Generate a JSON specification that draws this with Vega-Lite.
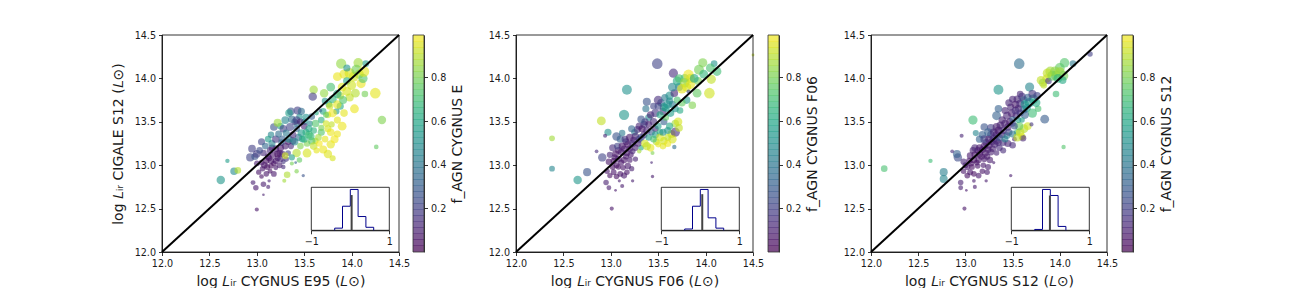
{
"$schema":"https://vega.github.io/schema/vega-lite/v6.json",
"width":1296,"height":288,"padding":0,"autosize":{"type":"none"},"background":"white",
"config":{"view":{"stroke":null},"font":"DejaVu Sans","axis":{"grid":false,"domainColor":"#000","tickColor":"#000","domainWidth":0.8,"tickWidth":0.8,"tickSize":3.5,"labelColor":"#1a1a1a","titleColor":"#1a1a1a","labelFontSize":9.6,"labelFont":"DejaVu Sans","titleFont":"DejaVu Sans","titleFontWeight":"normal","titleFontSize":14,"labelPadding":3,"labelFlush":false,"labelOverlap":false}},
"datasets":{
"line":[{"a":12,"b":12},{"a":14.5,"b":14.5}],
"frame":[{"a":12,"a2":14.5,"b":12,"b2":14.5}],
"iframe":[{"a":-1,"a2":1,"b":0,"b2":1}],
"bar":[{"a":0.0,"b":0.03},{"a":0.0275,"b":0.058},{"a":0.055,"b":0.085},{"a":0.0825,"b":0.113},{"a":0.11,"b":0.14},{"a":0.1375,"b":0.168},{"a":0.165,"b":0.195},{"a":0.1925,"b":0.223},{"a":0.22,"b":0.25},{"a":0.2475,"b":0.278},{"a":0.275,"b":0.305},{"a":0.3025,"b":0.333},{"a":0.33,"b":0.36},{"a":0.3575,"b":0.388},{"a":0.385,"b":0.415},{"a":0.4125,"b":0.443},{"a":0.44,"b":0.47},{"a":0.4675,"b":0.498},{"a":0.495,"b":0.525},{"a":0.5225,"b":0.553},{"a":0.55,"b":0.58},{"a":0.5775,"b":0.608},{"a":0.605,"b":0.635},{"a":0.6325,"b":0.663},{"a":0.66,"b":0.69},{"a":0.6875,"b":0.718},{"a":0.715,"b":0.745},{"a":0.7425,"b":0.773},{"a":0.77,"b":0.8},{"a":0.7975,"b":0.828},{"a":0.825,"b":0.855},{"a":0.8525,"b":0.883},{"a":0.88,"b":0.91},{"a":0.9075,"b":0.938},{"a":0.935,"b":0.965},{"a":0.9625,"b":0.994}],
"h1":[{"a":-0.4,"b":0},{"a":-0.4,"b":0.05},{"a":-0.2,"b":0.56},{"a":0,"b":0.95},{"a":0.2,"b":0.32},{"a":0.4,"b":0.07},{"a":0.6,"b":0}],
"h2":[{"a":-0.4,"b":0},{"a":-0.4,"b":0.03},{"a":-0.2,"b":0.56},{"a":0,"b":0.95},{"a":0.2,"b":0.29},{"a":0.4,"b":0.05},{"a":0.6,"b":0}],
"h3":[{"a":-0.4,"b":0},{"a":-0.4,"b":0.02},{"a":-0.2,"b":0.95},{"a":0,"b":0.81},{"a":0.2,"b":0.09},{"a":0.4,"b":0}],
"g1":[{"a":0.034,"b":0.82}],"g2":[{"a":0.05,"b":0.84}],"g3":[{"a":-0.01,"b":0.81}],
"p1":[
{"x":13.08,"y":13.0,"f":0.05,"s":0.3},{"x":13.13,"y":13.08,"f":0.04,"s":0.25},{"x":13.18,"y":13.02,"f":0.04,"s":0.2},{"x":13.22,"y":13.08,"f":0.05,"s":0.25},{"x":13.28,"y":13.04,"f":0.15,"s":0.15},{"x":13.16,"y":13.2,"f":0.12,"s":0.3},{"x":13.26,"y":13.26,"f":0.35,"s":0.3},{"x":13.33,"y":13.27,"f":0.05,"s":0.3},{"x":13.38,"y":13.28,"f":0.15,"s":0.35},{"x":13.24,"y":13.14,"f":0.06,"s":0.3},{"x":13.44,"y":13.32,"f":0.35,"s":0.35},{"x":13.47,"y":13.37,"f":0.55,"s":0.4},{"x":13.52,"y":13.38,"f":0.62,"s":0.35},{"x":13.48,"y":13.3,"f":0.6,"s":0.3},{"x":13.53,"y":13.25,"f":0.8,"s":0.3},{"x":13.57,"y":13.33,"f":0.66,"s":0.4},{"x":13.62,"y":13.28,"f":0.88,"s":0.25},{"x":13.68,"y":13.38,"f":0.72,"s":0.35},{"x":13.72,"y":13.3,"f":0.95,"s":0.3},{"x":13.75,"y":13.42,"f":0.93,"s":0.35},{"x":13.85,"y":13.36,"f":0.96,"s":0.35},{"x":13.42,"y":13.48,"f":0.4,"s":0.3},{"x":13.45,"y":13.56,"f":0.5,"s":0.28},{"x":13.5,"y":13.5,"f":0.52,"s":0.3},{"x":13.56,"y":13.48,"f":0.45,"s":0.25},{"x":13.68,"y":13.52,"f":0.62,"s":0.3},{"x":13.7,"y":13.62,"f":0.58,"s":0.3},{"x":13.76,"y":13.7,"f":0.62,"s":0.3},{"x":13.84,"y":13.62,"f":0.55,"s":0.25},{"x":13.88,"y":13.8,"f":0.9,"s":0.4},{"x":13.95,"y":13.85,"f":0.93,"s":0.55},{"x":13.98,"y":13.78,"f":0.9,"s":0.45},{"x":14.02,"y":14.02,"f":0.92,"s":0.7},{"x":14.08,"y":14.05,"f":0.88,"s":0.6},{"x":14.1,"y":13.94,"f":0.96,"s":0.6},{"x":13.92,"y":14.05,"f":0.95,"s":0.6},{"x":13.75,"y":13.58,"f":0.9,"s":0.3},{"x":13.88,"y":13.68,"f":0.6,"s":0.35},{"x":13.0,"y":13.02,"f":0.07,"s":0.22},{"x":13.07,"y":13.14,"f":0.12,"s":0.3},{"x":13.15,"y":13.35,"f":0.45,"s":0.28},{"x":13.25,"y":13.45,"f":0.6,"s":0.3},{"x":13.4,"y":13.5,"f":0.15,"s":0.3},{"x":13.36,"y":13.62,"f":0.25,"s":0.4},
{"x":12.62,"y":12.83,"f":0.52,"s":0.5},{"x":12.76,"y":12.93,"f":0.47,"s":0.4},{"x":12.8,"y":12.94,"f":0.88,"s":0.3},{"x":12.69,"y":13.05,"f":0.55,"s":0.12},{"x":13.0,"y":12.49,"f":0.05,"s":0.1},
{"x":12.96,"y":12.8,"f":0.08,"s":0.15},{"x":12.99,"y":12.74,"f":0.06,"s":0.2},{"x":13.07,"y":12.78,"f":0.07,"s":0.2},{"x":13.12,"y":12.75,"f":0.08,"s":0.1},{"x":13.13,"y":12.82,"f":0.09,"s":0.06},{"x":13.07,"y":12.66,"f":0.08,"s":0.03},
{"x":13.02,"y":12.92,"f":0.05,"s":0.18},{"x":13.05,"y":12.87,"f":0.04,"s":0.14},{"x":13.1,"y":12.9,"f":0.05,"s":0.2},{"x":13.14,"y":12.93,"f":0.04,"s":0.16},{"x":13.18,"y":12.9,"f":0.06,"s":0.22},{"x":13.06,"y":12.96,"f":0.05,"s":0.2},{"x":13.11,"y":12.98,"f":0.04,"s":0.25},{"x":13.15,"y":12.99,"f":0.03,"s":0.2},{"x":13.2,"y":12.97,"f":0.06,"s":0.16},{"x":13.24,"y":13.0,"f":0.07,"s":0.24},{"x":13.28,"y":12.98,"f":0.12,"s":0.12},{"x":13.05,"y":13.03,"f":0.05,"s":0.22},{"x":13.1,"y":13.05,"f":0.04,"s":0.26},{"x":13.15,"y":13.05,"f":0.05,"s":0.3},{"x":13.2,"y":13.05,"f":0.06,"s":0.26},{"x":13.25,"y":13.07,"f":0.1,"s":0.28},{"x":13.31,"y":13.07,"f":0.15,"s":0.2},{"x":13.12,"y":13.1,"f":0.06,"s":0.28},{"x":13.17,"y":13.12,"f":0.05,"s":0.3},{"x":13.22,"y":13.13,"f":0.04,"s":0.32},{"x":13.27,"y":13.13,"f":0.08,"s":0.28},{"x":13.33,"y":13.14,"f":0.2,"s":0.22},{"x":13.14,"y":13.17,"f":0.1,"s":0.3},{"x":13.2,"y":13.19,"f":0.07,"s":0.32},{"x":13.25,"y":13.2,"f":0.05,"s":0.36},{"x":13.3,"y":13.22,"f":0.08,"s":0.32},{"x":13.36,"y":13.22,"f":0.12,"s":0.26},
{"x":12.93,"y":13.09,"f":0.2,"s":0.45},{"x":12.95,"y":13.19,"f":0.18,"s":0.42},{"x":12.98,"y":13.1,"f":0.25,"s":0.35},{"x":13.0,"y":13.13,"f":0.17,"s":0.4},{"x":13.03,"y":13.17,"f":0.22,"s":0.3},{"x":13.05,"y":13.27,"f":0.2,"s":0.35},{"x":13.09,"y":13.22,"f":0.33,"s":0.3},{"x":13.12,"y":13.3,"f":0.55,"s":0.3},{"x":13.16,"y":13.25,"f":0.45,"s":0.35},{"x":13.18,"y":13.44,"f":0.25,"s":0.4},{"x":13.2,"y":13.3,"f":0.15,"s":0.38},{"x":13.23,"y":13.36,"f":0.35,"s":0.32},{"x":13.27,"y":13.3,"f":0.3,"s":0.38},{"x":13.28,"y":13.42,"f":0.18,"s":0.4},{"x":13.31,"y":13.37,"f":0.4,"s":0.35},{"x":13.34,"y":13.3,"f":0.5,"s":0.35},{"x":13.35,"y":13.44,"f":0.2,"s":0.42},{"x":13.38,"y":13.35,"f":0.12,"s":0.35},{"x":13.4,"y":13.27,"f":0.45,"s":0.38},{"x":13.42,"y":13.42,"f":0.3,"s":0.3},{"x":13.3,"y":13.52,"f":0.45,"s":0.42},{"x":13.34,"y":13.6,"f":0.55,"s":0.4},{"x":13.37,"y":13.53,"f":0.35,"s":0.4},{"x":13.42,"y":13.52,"f":0.2,"s":0.38},{"x":13.43,"y":13.63,"f":0.18,"s":0.42},{"x":13.46,"y":13.5,"f":0.08,"s":0.3},{"x":13.5,"y":13.45,"f":0.1,"s":0.3},{"x":13.22,"y":13.49,"f":0.85,"s":0.45},{"x":13.47,"y":13.62,"f":0.35,"s":0.35},
{"x":13.32,"y":12.89,"f":0.87,"s":0.3},{"x":13.29,"y":12.82,"f":0.85,"s":0.1},{"x":13.42,"y":12.93,"f":0.8,"s":0.12},{"x":13.49,"y":12.88,"f":0.25,"s":0.06},{"x":13.8,"y":13.08,"f":0.93,"s":0.25},{"x":14.26,"y":13.21,"f":0.75,"s":0.14},{"x":14.32,"y":13.52,"f":0.8,"s":0.5},{"x":13.53,"y":13.14,"f":0.93,"s":0.55},{"x":13.42,"y":13.14,"f":0.88,"s":0.5},{"x":13.37,"y":13.09,"f":0.55,"s":0.25},{"x":13.3,"y":13.11,"f":0.92,"s":0.3},{"x":13.45,"y":13.06,"f":0.75,"s":0.2},{"x":13.37,"y":13.02,"f":0.78,"s":0.1},{"x":13.41,"y":13.03,"f":0.3,"s":0.04},
{"x":13.46,"y":13.22,"f":0.8,"s":0.3},{"x":13.5,"y":13.3,"f":0.62,"s":0.35},{"x":13.55,"y":13.35,"f":0.68,"s":0.4},{"x":13.58,"y":13.28,"f":0.72,"s":0.38},{"x":13.6,"y":13.22,"f":0.9,"s":0.4},{"x":13.63,"y":13.17,"f":0.95,"s":0.25},{"x":13.66,"y":13.25,"f":0.98,"s":0.3},{"x":13.7,"y":13.18,"f":0.96,"s":0.45},{"x":13.75,"y":13.13,"f":0.94,"s":0.5},{"x":13.78,"y":13.24,"f":0.95,"s":0.5},{"x":13.82,"y":13.3,"f":0.97,"s":0.45},{"x":13.65,"y":13.32,"f":0.85,"s":0.3},{"x":13.55,"y":13.42,"f":0.6,"s":0.35},{"x":13.6,"y":13.4,"f":0.64,"s":0.3},{"x":13.62,"y":13.48,"f":0.72,"s":0.4},{"x":13.68,"y":13.43,"f":0.78,"s":0.25},{"x":13.73,"y":13.48,"f":0.92,"s":0.3},{"x":13.78,"y":13.38,"f":0.96,"s":0.4},{"x":13.52,"y":13.55,"f":0.5,"s":0.38},{"x":13.58,"y":13.56,"f":0.3,"s":0.3},{"x":13.63,"y":13.6,"f":0.6,"s":0.15},
{"x":13.6,"y":13.87,"f":0.85,"s":0.5},{"x":13.59,"y":13.79,"f":0.17,"s":0.5},{"x":13.71,"y":13.83,"f":0.83,"s":0.5},{"x":13.78,"y":13.9,"f":0.7,"s":0.55},{"x":13.85,"y":14.02,"f":0.96,"s":0.55},{"x":13.89,"y":14.17,"f":0.83,"s":0.75},{"x":14.07,"y":14.18,"f":0.85,"s":0.65},{"x":14.15,"y":14.17,"f":0.55,"s":0.3},{"x":14.25,"y":13.83,"f":0.95,"s":0.8},{"x":14.14,"y":13.82,"f":0.78,"s":0.3},{"x":14.04,"y":13.83,"f":0.88,"s":0.55},{"x":14.03,"y":13.65,"f":0.96,"s":0.55},{"x":14.12,"y":14.0,"f":0.72,"s":0.6},{"x":13.98,"y":14.06,"f":0.93,"s":0.75},{"x":14.05,"y":14.1,"f":0.78,"s":0.7},{"x":14.13,"y":14.08,"f":0.95,"s":0.8},{"x":13.95,"y":13.97,"f":0.6,"s":0.4},{"x":14.0,"y":13.92,"f":0.92,"s":0.6},{"x":13.9,"y":13.9,"f":0.94,"s":0.55},{"x":13.85,"y":13.82,"f":0.6,"s":0.5},{"x":13.8,"y":13.76,"f":0.65,"s":0.45},{"x":13.72,"y":13.74,"f":0.5,"s":0.3},{"x":13.77,"y":13.68,"f":0.92,"s":0.35},{"x":13.85,"y":13.7,"f":0.95,"s":0.5},{"x":13.91,"y":13.75,"f":0.72,"s":0.45},{"x":13.8,"y":13.6,"f":0.97,"s":0.5},{"x":13.67,"y":13.63,"f":0.3,"s":0.08},{"x":13.73,"y":13.58,"f":0.75,"s":0.25},{"x":13.9,"y":13.45,"f":0.96,"s":0.55},{"x":13.85,"y":13.52,"f":0.95,"s":0.35},{"x":13.79,"y":13.47,"f":0.9,"s":0.25},{"x":13.95,"y":14.12,"f":0.5,"s":0.35},{"x":13.92,"y":13.6,"f":0.95,"s":0.4}
],
"p2":[
{"x":13.06,"y":13.0,"f":0.05,"s":0.24},{"x":13.11,"y":13.03,"f":0.05,"s":0.25},{"x":13.16,"y":13.1,"f":0.06,"s":0.25},{"x":13.21,"y":13.12,"f":0.06,"s":0.25},{"x":13.04,"y":13.09,"f":0.07,"s":0.25},{"x":13.08,"y":13.17,"f":0.06,"s":0.3},{"x":13.14,"y":13.19,"f":0.07,"s":0.3},{"x":13.2,"y":13.19,"f":0.06,"s":0.3},{"x":13.26,"y":13.2,"f":0.08,"s":0.28},{"x":13.32,"y":13.2,"f":0.6,"s":0.2},{"x":13.16,"y":13.27,"f":0.12,"s":0.32},{"x":13.24,"y":13.29,"f":0.07,"s":0.3},{"x":13.3,"y":13.3,"f":0.3,"s":0.35},{"x":13.35,"y":13.35,"f":0.08,"s":0.35},{"x":13.4,"y":13.32,"f":0.55,"s":0.3},{"x":13.47,"y":13.42,"f":0.1,"s":0.3},{"x":13.52,"y":13.38,"f":0.62,"s":0.3},{"x":13.3,"y":13.45,"f":0.1,"s":0.35},{"x":13.35,"y":13.47,"f":0.2,"s":0.35},{"x":13.4,"y":13.55,"f":0.45,"s":0.35},{"x":13.55,"y":13.62,"f":0.12,"s":0.38},{"x":13.58,"y":13.66,"f":0.55,"s":0.4},{"x":13.65,"y":13.7,"f":0.4,"s":0.35},{"x":13.7,"y":13.75,"f":0.7,"s":0.35},{"x":13.53,"y":13.72,"f":0.3,"s":0.4},{"x":13.45,"y":13.68,"f":0.2,"s":0.3},{"x":13.62,"y":13.74,"f":0.45,"s":0.35},{"x":13.72,"y":13.9,"f":0.4,"s":0.45},{"x":13.78,"y":14.0,"f":0.7,"s":0.55},{"x":13.84,"y":14.0,"f":0.9,"s":0.6},{"x":13.8,"y":13.9,"f":0.92,"s":0.6},{"x":13.92,"y":13.97,"f":0.78,"s":0.45},{"x":13.68,"y":13.48,"f":0.85,"s":0.4},{"x":13.64,"y":13.36,"f":0.92,"s":0.45},{"x":13.55,"y":13.22,"f":0.95,"s":0.3},{"x":13.48,"y":13.27,"f":0.88,"s":0.35},{"x":13.44,"y":13.14,"f":0.8,"s":0.1},{"x":13.62,"y":13.45,"f":0.6,"s":0.35},{"x":13.25,"y":13.38,"f":0.4,"s":0.3},{"x":13.12,"y":13.37,"f":0.4,"s":0.28},
{"x":12.38,"y":12.96,"f":0.45,"s":0.22},{"x":12.38,"y":13.31,"f":0.85,"s":0.22},{"x":12.65,"y":12.83,"f":0.52,"s":0.5},{"x":12.75,"y":12.92,"f":0.25,"s":0.45},{"x":13.01,"y":12.5,"f":0.05,"s":0.1},{"x":12.91,"y":13.09,"f":0.2,"s":0.5},{"x":12.97,"y":13.38,"f":0.5,"s":0.35},{"x":13.06,"y":13.33,"f":0.25,"s":0.5},{"x":12.94,"y":13.34,"f":0.1,"s":0.1},{"x":12.85,"y":13.16,"f":0.12,"s":0.08},{"x":13.44,"y":12.87,"f":0.07,"s":0.06},{"x":13.43,"y":13.03,"f":0.1,"s":0.03},{"x":13.67,"y":13.21,"f":0.35,"s":0.12},{"x":13.23,"y":12.82,"f":0.08,"s":0.06},{"x":13.12,"y":12.76,"f":0.07,"s":0.1},{"x":13.05,"y":12.71,"f":0.06,"s":0.03},{"x":12.98,"y":12.74,"f":0.07,"s":0.15},{"x":12.95,"y":12.8,"f":0.08,"s":0.2},{"x":13.09,"y":12.82,"f":0.07,"s":0.05},{"x":12.9,"y":13.51,"f":0.9,"s":0.55},
{"x":13.49,"y":14.17,"f":0.2,"s":0.8},{"x":13.17,"y":13.87,"f":0.5,"s":0.7},{"x":13.14,"y":13.58,"f":0.52,"s":0.75},{"x":13.66,"y":14.06,"f":0.13,"s":0.6},{"x":13.97,"y":14.18,"f":0.8,"s":0.6},{"x":14.09,"y":14.17,"f":0.5,"s":0.3},{"x":13.93,"y":14.1,"f":0.78,"s":0.7},{"x":14.06,"y":13.99,"f":0.9,"s":0.6},{"x":14.04,"y":13.83,"f":0.92,"s":0.8},{"x":13.91,"y":13.83,"f":0.75,"s":0.55},{"x":13.86,"y":13.69,"f":0.8,"s":0.4},{"x":13.82,"y":14.04,"f":0.97,"s":0.8},{"x":13.38,"y":13.73,"f":0.25,"s":0.45},{"x":13.37,"y":13.65,"f":0.38,"s":0.35},{"x":13.71,"y":13.5,"f":0.93,"s":0.5},{"x":13.68,"y":13.38,"f":0.13,"s":0.6},{"x":13.65,"y":13.3,"f":0.93,"s":0.5},{"x":14.5,"y":14.27,"f":0.9,"s":0.04},{"x":14.12,"y":14.08,"f":0.68,"s":0.55},{"x":14.05,"y":14.12,"f":0.7,"s":0.55},
{"x":12.96,"y":12.93,"f":0.05,"s":0.2},{"x":12.99,"y":12.88,"f":0.04,"s":0.18},{"x":13.03,"y":12.92,"f":0.05,"s":0.22},{"x":13.06,"y":12.87,"f":0.04,"s":0.2},{"x":13.1,"y":12.9,"f":0.05,"s":0.22},{"x":13.14,"y":12.88,"f":0.06,"s":0.25},{"x":13.17,"y":12.92,"f":0.05,"s":0.2},{"x":13.02,"y":12.98,"f":0.04,"s":0.24},{"x":13.08,"y":12.98,"f":0.04,"s":0.2},{"x":13.13,"y":12.97,"f":0.05,"s":0.2},{"x":13.18,"y":12.99,"f":0.06,"s":0.28},{"x":13.22,"y":12.96,"f":0.08,"s":0.18},{"x":12.98,"y":13.04,"f":0.05,"s":0.28},{"x":13.03,"y":13.05,"f":0.04,"s":0.26},{"x":13.08,"y":13.07,"f":0.06,"s":0.3},{"x":13.14,"y":13.06,"f":0.05,"s":0.28},{"x":13.2,"y":13.06,"f":0.07,"s":0.22},{"x":13.26,"y":13.07,"f":0.08,"s":0.18},{"x":12.99,"y":13.12,"f":0.1,"s":0.26},{"x":13.05,"y":13.13,"f":0.05,"s":0.3},{"x":13.11,"y":13.15,"f":0.06,"s":0.3},{"x":13.17,"y":13.14,"f":0.07,"s":0.3},{"x":13.23,"y":13.16,"f":0.1,"s":0.22},{"x":13.3,"y":13.16,"f":0.85,"s":0.12},{"x":13.02,"y":13.2,"f":0.12,"s":0.35},{"x":13.07,"y":13.22,"f":0.2,"s":0.32},{"x":13.12,"y":13.22,"f":0.06,"s":0.35},{"x":13.18,"y":13.24,"f":0.05,"s":0.35},{"x":13.23,"y":13.25,"f":0.12,"s":0.35},{"x":13.29,"y":13.25,"f":0.08,"s":0.3},{"x":13.1,"y":13.3,"f":0.3,"s":0.35},{"x":13.15,"y":13.3,"f":0.15,"s":0.32},{"x":13.2,"y":13.32,"f":0.06,"s":0.38},{"x":13.26,"y":13.33,"f":0.1,"s":0.38},{"x":13.32,"y":13.32,"f":0.2,"s":0.35},{"x":13.36,"y":13.25,"f":0.92,"s":0.4},{"x":13.42,"y":13.2,"f":0.95,"s":0.4},{"x":13.38,"y":13.22,"f":0.9,"s":0.5},{"x":13.28,"y":13.41,"f":0.12,"s":0.35},{"x":13.22,"y":13.42,"f":0.32,"s":0.35},{"x":13.33,"y":13.42,"f":0.05,"s":0.35},{"x":13.38,"y":13.4,"f":0.1,"s":0.35},{"x":13.43,"y":13.38,"f":0.3,"s":0.3},{"x":13.47,"y":13.35,"f":0.55,"s":0.35},{"x":13.52,"y":13.32,"f":0.93,"s":0.45},{"x":13.56,"y":13.28,"f":0.92,"s":0.4},{"x":13.6,"y":13.32,"f":0.9,"s":0.35},{"x":13.5,"y":13.24,"f":0.95,"s":0.25},{"x":13.45,"y":13.3,"f":0.7,"s":0.3},{"x":13.55,"y":13.38,"f":0.5,"s":0.35},{"x":13.6,"y":13.4,"f":0.52,"s":0.35},{"x":13.36,"y":13.5,"f":0.15,"s":0.35},{"x":13.32,"y":13.53,"f":0.25,"s":0.4},{"x":13.4,"y":13.47,"f":0.08,"s":0.3},{"x":13.45,"y":13.5,"f":0.12,"s":0.4},{"x":13.5,"y":13.45,"f":0.55,"s":0.3},{"x":13.56,"y":13.5,"f":0.3,"s":0.35},{"x":13.42,"y":13.58,"f":0.08,"s":0.38},{"x":13.47,"y":13.6,"f":0.15,"s":0.45},{"x":13.52,"y":13.58,"f":0.6,"s":0.35},{"x":13.58,"y":13.55,"f":0.75,"s":0.3},{"x":13.63,"y":13.6,"f":0.55,"s":0.4},{"x":13.56,"y":13.67,"f":0.55,"s":0.45},{"x":13.5,"y":13.68,"f":0.2,"s":0.35},{"x":13.6,"y":13.7,"f":0.5,"s":0.5},{"x":13.68,"y":13.65,"f":0.5,"s":0.35},{"x":13.73,"y":13.63,"f":0.6,"s":0.3},{"x":13.5,"y":13.75,"f":0.13,"s":0.55},{"x":13.57,"y":13.78,"f":0.4,"s":0.35},{"x":13.62,"y":13.8,"f":0.5,"s":0.5},{"x":13.67,"y":13.83,"f":0.1,"s":0.4},{"x":13.65,"y":13.9,"f":0.45,"s":0.55},{"x":13.7,"y":13.97,"f":0.6,"s":0.55},{"x":13.72,"y":14.0,"f":0.7,"s":0.5},{"x":13.78,"y":13.95,"f":0.85,"s":0.65},{"x":13.84,"y":13.93,"f":0.95,"s":0.6},{"x":13.88,"y":14.0,"f":0.6,"s":0.55},{"x":13.75,"y":13.88,"f":0.95,"s":0.65},{"x":13.82,"y":13.85,"f":0.2,"s":0.1},{"x":13.8,"y":13.75,"f":0.55,"s":0.4},{"x":13.75,"y":13.72,"f":0.75,"s":0.4},{"x":13.98,"y":14.05,"f":0.65,"s":0.55},{"x":13.72,"y":13.43,"f":0.9,"s":0.4},{"x":13.6,"y":13.25,"f":0.96,"s":0.35}
],
"p3":[
{"x":13.0,"y":13.0,"f":0.06,"s":0.22},{"x":13.06,"y":13.02,"f":0.05,"s":0.25},{"x":13.12,"y":13.03,"f":0.05,"s":0.22},{"x":13.17,"y":13.1,"f":0.05,"s":0.3},{"x":13.23,"y":13.1,"f":0.06,"s":0.28},{"x":13.08,"y":13.17,"f":0.08,"s":0.3},{"x":13.13,"y":13.17,"f":0.08,"s":0.3},{"x":13.18,"y":13.18,"f":0.05,"s":0.32},{"x":13.24,"y":13.18,"f":0.07,"s":0.32},{"x":13.29,"y":13.19,"f":0.08,"s":0.3},{"x":13.35,"y":13.26,"f":0.1,"s":0.3},{"x":13.4,"y":13.26,"f":0.13,"s":0.3},{"x":13.22,"y":13.26,"f":0.15,"s":0.38},{"x":13.28,"y":13.27,"f":0.08,"s":0.36},{"x":13.33,"y":13.28,"f":0.12,"s":0.38},{"x":13.18,"y":13.35,"f":0.3,"s":0.4},{"x":13.27,"y":13.35,"f":0.2,"s":0.4},{"x":13.33,"y":13.35,"f":0.1,"s":0.4},{"x":13.39,"y":13.35,"f":0.1,"s":0.35},{"x":13.44,"y":13.34,"f":0.4,"s":0.3},{"x":13.27,"y":13.43,"f":0.18,"s":0.42},{"x":13.33,"y":13.44,"f":0.08,"s":0.42},{"x":13.39,"y":13.52,"f":0.08,"s":0.38},{"x":13.45,"y":13.44,"f":0.08,"s":0.38},{"x":13.54,"y":13.57,"f":0.12,"s":0.38},{"x":13.5,"y":13.48,"f":0.2,"s":0.3},{"x":13.56,"y":13.65,"f":0.08,"s":0.38},{"x":13.62,"y":13.64,"f":0.3,"s":0.4},{"x":13.65,"y":13.66,"f":0.5,"s":0.5},{"x":13.42,"y":13.63,"f":0.1,"s":0.35},{"x":13.46,"y":13.72,"f":0.1,"s":0.35},{"x":13.5,"y":13.76,"f":0.1,"s":0.35},{"x":13.55,"y":13.76,"f":0.1,"s":0.38},{"x":13.62,"y":13.75,"f":0.45,"s":0.4},{"x":13.58,"y":13.82,"f":0.1,"s":0.3},{"x":13.86,"y":14.0,"f":0.93,"s":0.5},{"x":13.9,"y":14.08,"f":0.85,"s":0.7},{"x":13.96,"y":14.03,"f":0.8,"s":0.7},{"x":14.0,"y":14.12,"f":0.75,"s":0.7},{"x":13.8,"y":13.98,"f":0.9,"s":0.5},{"x":13.55,"y":13.38,"f":0.7,"s":0.3},{"x":13.6,"y":13.33,"f":0.92,"s":0.35},
{"x":12.14,"y":12.96,"f":0.7,"s":0.3},{"x":12.63,"y":13.05,"f":0.68,"s":0.12},{"x":12.77,"y":12.92,"f":0.42,"s":0.45},{"x":12.77,"y":12.84,"f":0.45,"s":0.45},{"x":12.99,"y":12.5,"f":0.05,"s":0.1},{"x":14.04,"y":13.21,"f":0.72,"s":0.12},{"x":12.92,"y":13.09,"f":0.22,"s":0.5},{"x":12.91,"y":13.13,"f":0.3,"s":0.45},{"x":12.86,"y":13.16,"f":0.12,"s":0.08},{"x":12.96,"y":13.34,"f":0.1,"s":0.1},{"x":13.11,"y":13.37,"f":0.45,"s":0.25},{"x":13.61,"y":13.31,"f":0.1,"s":0.3},{"x":13.48,"y":12.88,"f":0.07,"s":0.06},{"x":13.3,"y":13.03,"f":0.08,"s":0.05},{"x":13.22,"y":12.82,"f":0.07,"s":0.06},{"x":13.09,"y":12.82,"f":0.07,"s":0.08},{"x":13.1,"y":12.75,"f":0.07,"s":0.1},{"x":12.95,"y":12.8,"f":0.08,"s":0.2},{"x":12.95,"y":12.74,"f":0.08,"s":0.15},{"x":13.01,"y":12.71,"f":0.06,"s":0.03},
{"x":13.57,"y":14.17,"f":0.35,"s":0.8},{"x":13.35,"y":13.87,"f":0.52,"s":0.7},{"x":13.08,"y":13.52,"f":0.68,"s":0.6},{"x":14.32,"y":14.28,"f":0.18,"s":0.2},{"x":14.14,"y":14.17,"f":0.4,"s":0.3},{"x":14.05,"y":14.18,"f":0.72,"s":0.65},{"x":13.96,"y":13.82,"f":0.68,"s":0.3},{"x":13.84,"y":13.53,"f":0.28,"s":0.55},{"x":13.68,"y":13.9,"f":0.45,"s":0.6},{"x":13.35,"y":13.65,"f":0.3,"s":0.4},{"x":13.33,"y":13.57,"f":0.3,"s":0.55},{"x":13.2,"y":13.44,"f":0.25,"s":0.4},{"x":13.71,"y":13.6,"f":0.68,"s":0.6},{"x":13.77,"y":13.65,"f":0.7,"s":0.3},
{"x":12.98,"y":12.93,"f":0.05,"s":0.2},{"x":13.02,"y":12.88,"f":0.04,"s":0.22},{"x":13.05,"y":12.92,"f":0.05,"s":0.24},{"x":13.09,"y":12.9,"f":0.04,"s":0.2},{"x":13.14,"y":12.88,"f":0.06,"s":0.22},{"x":13.18,"y":12.93,"f":0.05,"s":0.2},{"x":13.23,"y":12.92,"f":0.07,"s":0.2},{"x":13.02,"y":12.98,"f":0.05,"s":0.26},{"x":13.07,"y":12.98,"f":0.04,"s":0.22},{"x":13.13,"y":12.99,"f":0.05,"s":0.2},{"x":13.19,"y":13.0,"f":0.06,"s":0.2},{"x":13.24,"y":12.98,"f":0.07,"s":0.24},{"x":12.98,"y":13.04,"f":0.1,"s":0.26},{"x":13.04,"y":13.05,"f":0.05,"s":0.26},{"x":13.09,"y":13.06,"f":0.04,"s":0.3},{"x":13.14,"y":13.06,"f":0.05,"s":0.28},{"x":13.2,"y":13.07,"f":0.06,"s":0.26},{"x":13.26,"y":13.06,"f":0.07,"s":0.28},{"x":13.05,"y":13.11,"f":0.06,"s":0.3},{"x":13.1,"y":13.12,"f":0.05,"s":0.32},{"x":13.15,"y":13.13,"f":0.05,"s":0.34},{"x":13.21,"y":13.14,"f":0.06,"s":0.32},{"x":13.27,"y":13.15,"f":0.08,"s":0.3},{"x":13.33,"y":13.14,"f":0.1,"s":0.2},{"x":13.1,"y":13.2,"f":0.1,"s":0.35},{"x":13.15,"y":13.2,"f":0.06,"s":0.36},{"x":13.2,"y":13.22,"f":0.06,"s":0.38},{"x":13.25,"y":13.23,"f":0.07,"s":0.36},{"x":13.31,"y":13.24,"f":0.1,"s":0.35},{"x":13.36,"y":13.2,"f":0.12,"s":0.3},{"x":13.4,"y":13.17,"f":0.12,"s":0.25},{"x":13.45,"y":13.25,"f":0.1,"s":0.35},{"x":13.5,"y":13.23,"f":0.12,"s":0.3},{"x":13.52,"y":13.3,"f":0.1,"s":0.15},{"x":13.15,"y":13.3,"f":0.3,"s":0.38},{"x":13.2,"y":13.3,"f":0.18,"s":0.42},{"x":13.25,"y":13.3,"f":0.08,"s":0.4},{"x":13.3,"y":13.31,"f":0.12,"s":0.42},{"x":13.36,"y":13.32,"f":0.25,"s":0.35},{"x":13.42,"y":13.3,"f":0.42,"s":0.3},{"x":13.24,"y":13.38,"f":0.3,"s":0.42},{"x":13.3,"y":13.38,"f":0.1,"s":0.4},{"x":13.35,"y":13.4,"f":0.06,"s":0.42},{"x":13.4,"y":13.4,"f":0.12,"s":0.38},{"x":13.46,"y":13.38,"f":0.2,"s":0.35},{"x":13.5,"y":13.36,"f":0.4,"s":0.35},{"x":13.55,"y":13.32,"f":0.9,"s":0.45},{"x":13.58,"y":13.38,"f":0.93,"s":0.5},{"x":13.62,"y":13.42,"f":0.88,"s":0.55},{"x":13.57,"y":13.45,"f":0.75,"s":0.45},{"x":13.52,"y":13.45,"f":0.25,"s":0.3},{"x":13.37,"y":13.46,"f":0.08,"s":0.38},{"x":13.42,"y":13.48,"f":0.08,"s":0.42},{"x":13.47,"y":13.5,"f":0.06,"s":0.38},{"x":13.5,"y":13.53,"f":0.3,"s":0.3},{"x":13.56,"y":13.52,"f":0.55,"s":0.25},{"x":13.44,"y":13.57,"f":0.1,"s":0.42},{"x":13.49,"y":13.6,"f":0.08,"s":0.42},{"x":13.53,"y":13.63,"f":0.14,"s":0.4},{"x":13.58,"y":13.6,"f":0.15,"s":0.35},{"x":13.63,"y":13.58,"f":0.3,"s":0.45},{"x":13.48,"y":13.67,"f":0.1,"s":0.35},{"x":13.53,"y":13.7,"f":0.07,"s":0.4},{"x":13.58,"y":13.71,"f":0.12,"s":0.42},{"x":13.63,"y":13.7,"f":0.5,"s":0.5},{"x":13.68,"y":13.72,"f":0.52,"s":0.65},{"x":13.72,"y":13.76,"f":0.55,"s":0.65},{"x":13.75,"y":13.72,"f":0.6,"s":0.5},{"x":13.66,"y":13.78,"f":0.3,"s":0.4},{"x":13.6,"y":13.79,"f":0.15,"s":0.4},{"x":13.71,"y":13.82,"f":0.15,"s":0.45},{"x":13.76,"y":13.8,"f":0.2,"s":0.4},{"x":13.82,"y":13.95,"f":0.85,"s":0.45},{"x":13.88,"y":13.97,"f":0.15,"s":0.3},{"x":13.92,"y":14.03,"f":0.75,"s":0.7},{"x":13.87,"y":14.06,"f":0.9,"s":0.65},{"x":13.95,"y":14.08,"f":0.82,"s":0.7},{"x":14.0,"y":14.07,"f":0.85,"s":0.7},{"x":14.04,"y":14.03,"f":0.78,"s":0.65},{"x":13.98,"y":14.0,"f":0.65,"s":0.55},{"x":14.03,"y":13.98,"f":0.6,"s":0.4},{"x":13.83,"y":13.92,"f":0.9,"s":0.3},{"x":13.66,"y":13.45,"f":0.92,"s":0.4},{"x":13.7,"y":13.47,"f":0.15,"s":0.1},{"x":13.6,"y":13.52,"f":0.55,"s":0.2}
]
},
"layer":[
{"layer":[
{"data":{"name":"p1"},"mark":{"type":"point","filled":true,"shape":"circle","opacity":0.6},"encoding":{"x":{"field":"x","type":"quantitative","scale":{"domain":[12,14.5],"range":[162,399],"nice":false},"axis":{"orient":"bottom","offset":-36,"values":[12,12.5,13,13.5,14,14.5],"format":".1f","title":"log 𝐿ᵢᵣ CYGNUS E95 (𝐿⊙)","titlePadding":6}},"y":{"field":"y","type":"quantitative","scale":{"domain":[12,14.5],"range":[252,35],"nice":false},"axis":{"orient":"left","offset":-162,"values":[12,12.5,13,13.5,14,14.5],"format":".1f","title":"log 𝐿ᵢᵣ CIGALE S12 (𝐿⊙)","titlePadding":9}},"color":{"field":"f","type":"quantitative","scale":{"scheme":"viridis","domain":[0,0.99]},"legend":null},"size":{"field":"s","type":"quantitative","scale":{"domain":[0,1],"range":[3,140]},"legend":null}}},
{"data":{"name":"line"},"mark":{"type":"line","color":"#000","strokeWidth":2},"encoding":{"x":{"field":"a","type":"quantitative"},"y":{"field":"b","type":"quantitative"}}},
{"data":{"name":"frame"},"mark":{"type":"rect","filled":false,"stroke":"#000","strokeWidth":0.8},"encoding":{"x":{"field":"a","type":"quantitative"},"x2":{"field":"a2"},"y":{"field":"b","type":"quantitative"},"y2":{"field":"b2"}}}
]},
{"layer":[
{"data":{"name":"iframe"},"mark":{"type":"rect","filled":false,"stroke":"#000","strokeWidth":0.8},"encoding":{"x":{"field":"a","type":"quantitative","scale":{"domain":[-1,1],"range":[311.3,389.3],"nice":false},"axis":{"orient":"bottom","offset":-57.7,"values":[-1,0,1],"format":"d","title":null}},"x2":{"field":"a2"},"y":{"field":"b","type":"quantitative","scale":{"domain":[0,1],"range":[230.3,187.3],"nice":false},"axis":null},"y2":{"field":"b2"}}},
{"data":{"name":"h1"},"mark":{"type":"line","interpolate":"step-after","color":"#00008b","strokeWidth":1},"encoding":{"x":{"field":"a","type":"quantitative"},"y":{"field":"b","type":"quantitative"}}},
{"data":{"name":"g1"},"mark":{"type":"rule","color":"#444","strokeWidth":2},"encoding":{"x":{"field":"a","type":"quantitative"},"y":{"field":"b","type":"quantitative"},"y2":{"datum":0}}}
]},
{"layer":[
{"data":{"name":"bar"},"mark":{"type":"rect","opacity":0.7},"encoding":{"x":{"datum":0,"type":"quantitative","scale":{"domain":[0,1],"range":[413,424]},"axis":null},"x2":{"datum":1},"y":{"field":"a","type":"quantitative","scale":{"domain":[0,0.994],"range":[252,35],"nice":false},"axis":{"orient":"right","offset":-872,"values":[0.2,0.4,0.6,0.8],"format":".1f","title":"f_AGN CYGNUS E","titleAngle":-90,"titleFontSize":14,"titleX":33,"titleY":143.5,"titleBaseline":"middle","titleAlign":"center"}},"y2":{"field":"b"},"color":{"field":"a","type":"quantitative","scale":{"scheme":"viridis","domain":[0,0.99]},"legend":null}}},
{"data":{"name":"iframe"},"mark":{"type":"rect","filled":false,"stroke":"#333","strokeWidth":0.8},"encoding":{"x":{"datum":0,"type":"quantitative"},"x2":{"datum":1},"y":{"datum":0,"type":"quantitative"},"y2":{"datum":0.994}}}
]},
{"layer":[
{"data":{"name":"p2"},"mark":{"type":"point","filled":true,"shape":"circle","opacity":0.6},"encoding":{"x":{"field":"x","type":"quantitative","scale":{"domain":[12,14.5],"range":[516,753],"nice":false},"axis":{"orient":"bottom","offset":-36,"values":[12,12.5,13,13.5,14,14.5],"format":".1f","title":"log 𝐿ᵢᵣ CYGNUS F06 (𝐿⊙)","titlePadding":6}},"y":{"field":"y","type":"quantitative","scale":{"domain":[12,14.5],"range":[252,35],"nice":false},"axis":{"orient":"left","offset":-516,"values":[12,12.5,13,13.5,14,14.5],"format":".1f","title":null}},"color":{"field":"f","type":"quantitative","scale":{"scheme":"viridis","domain":[0,0.99]},"legend":null},"size":{"field":"s","type":"quantitative","scale":{"domain":[0,1],"range":[3,140]},"legend":null}}},
{"data":{"name":"line"},"mark":{"type":"line","color":"#000","strokeWidth":2},"encoding":{"x":{"field":"a","type":"quantitative"},"y":{"field":"b","type":"quantitative"}}},
{"data":{"name":"frame"},"mark":{"type":"rect","filled":false,"stroke":"#000","strokeWidth":0.8},"encoding":{"x":{"field":"a","type":"quantitative"},"x2":{"field":"a2"},"y":{"field":"b","type":"quantitative"},"y2":{"field":"b2"}}}
]},
{"layer":[
{"data":{"name":"iframe"},"mark":{"type":"rect","filled":false,"stroke":"#000","strokeWidth":0.8},"encoding":{"x":{"field":"a","type":"quantitative","scale":{"domain":[-1,1],"range":[661.3,739.3],"nice":false},"axis":{"orient":"bottom","offset":-57.7,"values":[-1,0,1],"format":"d","title":null}},"x2":{"field":"a2"},"y":{"field":"b","type":"quantitative","scale":{"domain":[0,1],"range":[230.3,187.3],"nice":false},"axis":null},"y2":{"field":"b2"}}},
{"data":{"name":"h2"},"mark":{"type":"line","interpolate":"step-after","color":"#00008b","strokeWidth":1},"encoding":{"x":{"field":"a","type":"quantitative"},"y":{"field":"b","type":"quantitative"}}},
{"data":{"name":"g2"},"mark":{"type":"rule","color":"#444","strokeWidth":2},"encoding":{"x":{"field":"a","type":"quantitative"},"y":{"field":"b","type":"quantitative"},"y2":{"datum":0}}}
]},
{"layer":[
{"data":{"name":"bar"},"mark":{"type":"rect","opacity":0.7},"encoding":{"x":{"datum":0,"type":"quantitative","scale":{"domain":[0,1],"range":[768,779]},"axis":null},"x2":{"datum":1},"y":{"field":"a","type":"quantitative","scale":{"domain":[0,0.994],"range":[252,35],"nice":false},"axis":{"orient":"right","offset":-517,"values":[0.2,0.4,0.6,0.8],"format":".1f","title":"f_AGN CYGNUS F06","titleAngle":-90,"titleFontSize":14,"titleX":33,"titleY":143.5,"titleBaseline":"middle","titleAlign":"center"}},"y2":{"field":"b"},"color":{"field":"a","type":"quantitative","scale":{"scheme":"viridis","domain":[0,0.99]},"legend":null}}},
{"data":{"name":"iframe"},"mark":{"type":"rect","filled":false,"stroke":"#333","strokeWidth":0.8},"encoding":{"x":{"datum":0,"type":"quantitative"},"x2":{"datum":1},"y":{"datum":0,"type":"quantitative"},"y2":{"datum":0.994}}}
]},
{"layer":[
{"data":{"name":"p3"},"mark":{"type":"point","filled":true,"shape":"circle","opacity":0.6},"encoding":{"x":{"field":"x","type":"quantitative","scale":{"domain":[12,14.5],"range":[871,1107],"nice":false},"axis":{"orient":"bottom","offset":-36,"values":[12,12.5,13,13.5,14,14.5],"format":".1f","title":"log 𝐿ᵢᵣ CYGNUS S12 (𝐿⊙)","titlePadding":6}},"y":{"field":"y","type":"quantitative","scale":{"domain":[12,14.5],"range":[252,35],"nice":false},"axis":{"orient":"left","offset":-871,"values":[12,12.5,13,13.5,14,14.5],"format":".1f","title":null}},"color":{"field":"f","type":"quantitative","scale":{"scheme":"viridis","domain":[0,0.99]},"legend":null},"size":{"field":"s","type":"quantitative","scale":{"domain":[0,1],"range":[3,140]},"legend":null}}},
{"data":{"name":"line"},"mark":{"type":"line","color":"#000","strokeWidth":2},"encoding":{"x":{"field":"a","type":"quantitative"},"y":{"field":"b","type":"quantitative"}}},
{"data":{"name":"frame"},"mark":{"type":"rect","filled":false,"stroke":"#000","strokeWidth":0.8},"encoding":{"x":{"field":"a","type":"quantitative"},"x2":{"field":"a2"},"y":{"field":"b","type":"quantitative"},"y2":{"field":"b2"}}}
]},
{"layer":[
{"data":{"name":"iframe"},"mark":{"type":"rect","filled":false,"stroke":"#000","strokeWidth":0.8},"encoding":{"x":{"field":"a","type":"quantitative","scale":{"domain":[-1,1],"range":[1011.3,1089.3],"nice":false},"axis":{"orient":"bottom","offset":-57.7,"values":[-1,0,1],"format":"d","title":null}},"x2":{"field":"a2"},"y":{"field":"b","type":"quantitative","scale":{"domain":[0,1],"range":[230.3,187.3],"nice":false},"axis":null},"y2":{"field":"b2"}}},
{"data":{"name":"h3"},"mark":{"type":"line","interpolate":"step-after","color":"#00008b","strokeWidth":1},"encoding":{"x":{"field":"a","type":"quantitative"},"y":{"field":"b","type":"quantitative"}}},
{"data":{"name":"g3"},"mark":{"type":"rule","color":"#444","strokeWidth":2},"encoding":{"x":{"field":"a","type":"quantitative"},"y":{"field":"b","type":"quantitative"},"y2":{"datum":0}}}
]},
{"layer":[
{"data":{"name":"bar"},"mark":{"type":"rect","opacity":0.7},"encoding":{"x":{"datum":0,"type":"quantitative","scale":{"domain":[0,1],"range":[1122,1133]},"axis":null},"x2":{"datum":1},"y":{"field":"a","type":"quantitative","scale":{"domain":[0,0.994],"range":[252,35],"nice":false},"axis":{"orient":"right","offset":-163,"values":[0.2,0.4,0.6,0.8],"format":".1f","title":"f_AGN CYGNUS S12","titleAngle":-90,"titleFontSize":14,"titleX":33,"titleY":143.5,"titleBaseline":"middle","titleAlign":"center"}},"y2":{"field":"b"},"color":{"field":"a","type":"quantitative","scale":{"scheme":"viridis","domain":[0,0.99]},"legend":null}}},
{"data":{"name":"iframe"},"mark":{"type":"rect","filled":false,"stroke":"#333","strokeWidth":0.8},"encoding":{"x":{"datum":0,"type":"quantitative"},"x2":{"datum":1},"y":{"datum":0,"type":"quantitative"},"y2":{"datum":0.994}}}
]}
],
"resolve":{"scale":{"x":"independent","y":"independent"},"axis":{"x":"independent","y":"independent"}}
}
